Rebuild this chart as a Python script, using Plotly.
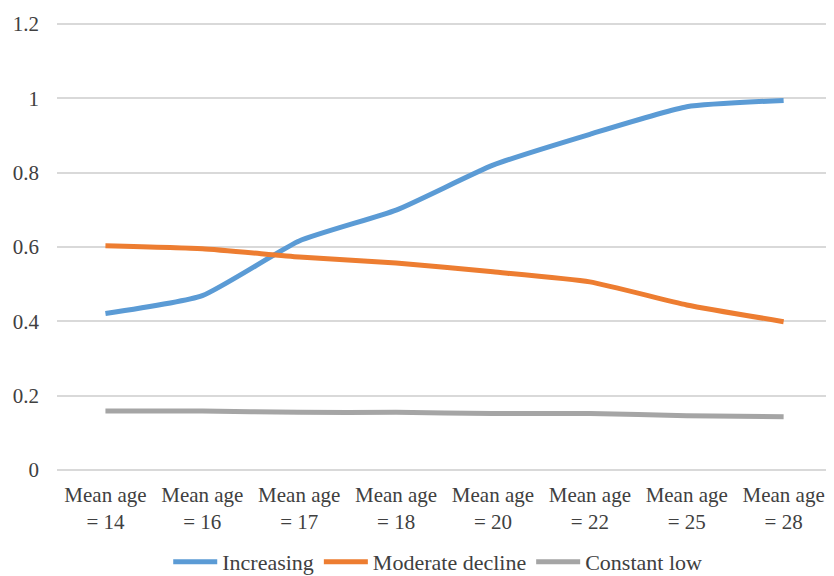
import plotly.graph_objects as go

categories = ["Mean age<br>= 14", "Mean age<br>= 16", "Mean age<br>= 17", "Mean age<br>= 18",
              "Mean age<br>= 20", "Mean age<br>= 22", "Mean age<br>= 25", "Mean age<br>= 28"]
increasing = [0.421, 0.469, 0.616, 0.699, 0.820, 0.903, 0.977, 0.994]
moderate_decline = [0.603, 0.595, 0.573, 0.557, 0.533, 0.506, 0.444, 0.399]
constant_low = [0.159, 0.159, 0.155, 0.155, 0.152, 0.152, 0.146, 0.143]
y_ticks = [0, 0.2, 0.4, 0.6, 0.8, 1.0, 1.2]
y_tick_labels = ["0", "0.2", "0.4", "0.6", "0.8", "1", "1.2"]

series = [
    ("Increasing", increasing, "#5B9BD5"),
    ("Moderate decline", moderate_decline, "#ED7D31"),
    ("Constant low", constant_low, "#A5A5A5"),
]

fig = go.Figure()
for name, vals, color in series:
    fig.add_trace(go.Scatter(
        x=categories, y=vals, name=name, mode="lines",
        line=dict(color=color, width=5, shape="spline", smoothing=0.5),
    ))

font_family = "Liberation Serif, Times New Roman, serif"
text_color = "#404040"
fig.update_layout(
    width=826, height=568,
    margin=dict(l=49, r=0, t=14, b=106, autoexpand=False),
    paper_bgcolor="white", plot_bgcolor="white",
    font=dict(family=font_family, size=21, color=text_color),
    showlegend=True,
    legend=dict(orientation="h", x=0.49, xanchor="center", y=-0.205, yanchor="middle",
                font=dict(family=font_family, size=22, color=text_color),
                itemwidth=44, tracegroupgap=0),
    xaxis=dict(type="category", showgrid=False, showline=False, zeroline=False,
               tickfont=dict(family=font_family, size=21, color=text_color), ticks="",
               ticklabelstandoff=10, range=[-0.5, 7.52]),
    yaxis=dict(range=[0, 1.205], showgrid=True, gridcolor="#D9D9D9", gridwidth=2,
               zeroline=True, zerolinecolor="#D9D9D9", zerolinewidth=2,
               showline=False, ticks="", ticklabelstandoff=17,
               tickfont=dict(family=font_family, size=21, color=text_color),
               tickvals=y_ticks, ticktext=y_tick_labels),
)

fig.write_html("out.html")
